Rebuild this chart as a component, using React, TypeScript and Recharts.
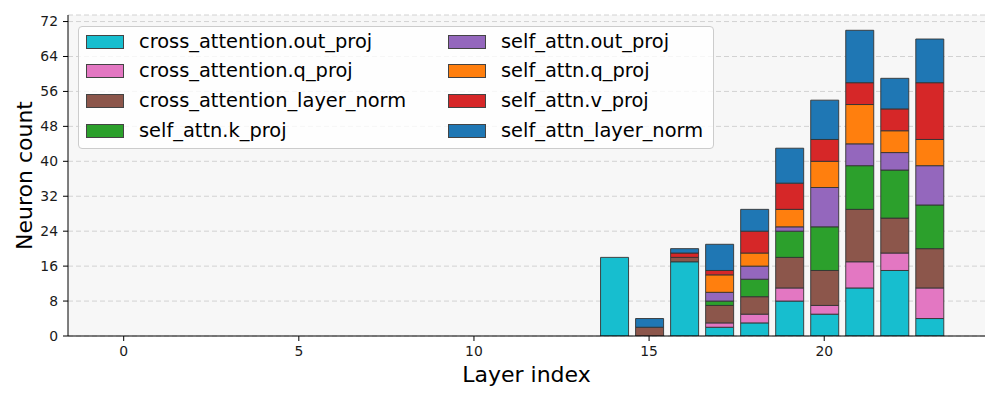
import { BarChart, Bar, XAxis, YAxis, CartesianGrid, Label } from 'recharts';

const layers = [14, 15, 16, 17, 18, 19, 20, 21, 22, 23];

const crossOutProj = [18, 0, 17, 2, 3, 8, 5, 11, 15, 4];
const crossQProj = [0, 0, 0, 1, 2, 3, 2, 6, 4, 7];
const crossLayerNorm = [0, 2, 1, 4, 4, 7, 8, 12, 8, 9];
const selfKProj = [0, 0, 0, 1, 4, 6, 10, 10, 11, 10];
const selfOutProj = [0, 0, 0, 2, 3, 1, 9, 5, 4, 9];
const selfQProj = [0, 0, 0, 4, 3, 4, 6, 9, 5, 6];
const selfVProj = [0, 0, 1, 1, 5, 6, 5, 5, 5, 13];
const selfLayerNorm = [0, 2, 1, 6, 5, 8, 9, 12, 7, 10];

const xTicks = [0, 5, 10, 15, 20];
const yTicks = [0, 8, 16, 24, 32, 40, 48, 56, 64, 72];

const series = [
  { key: 'cross_attention.out_proj', values: crossOutProj, color: '#17becf' },
  { key: 'cross_attention.q_proj', values: crossQProj, color: '#e377c2' },
  { key: 'cross_attention_layer_norm', values: crossLayerNorm, color: '#8c564b' },
  { key: 'self_attn.k_proj', values: selfKProj, color: '#2ca02c' },
  { key: 'self_attn.out_proj', values: selfOutProj, color: '#9467bd' },
  { key: 'self_attn.q_proj', values: selfQProj, color: '#ff7f0e' },
  { key: 'self_attn.v_proj', values: selfVProj, color: '#d62728' },
  { key: 'self_attn_layer_norm', values: selfLayerNorm, color: '#1f77b4' },
];

const data = layers.map((layer, i) => {
  const row: Record<string, number> = { layer };
  series.forEach((s) => {
    row[s.key] = s.values[i];
  });
  return row;
});

const font = '"DejaVu Sans", sans-serif';

const tickStyle = { fontSize: 13.9, fill: '#1a1a1a', fontFamily: font };

export default function App() {
  return (
    <div style={{ position: 'absolute', left: 0, top: 0, width: 1000, height: 400, background: '#fff' }}>
      <BarChart
        width={1000}
        height={400}
        data={data}
        margin={{ top: 15, right: 15, bottom: 0, left: 0 }}
      >
        <CartesianGrid vertical={false} strokeDasharray="5 3" stroke="#d2d2d2" fill="#f7f7f7" />
        <XAxis
          dataKey="layer"
          type="number"
          domain={[-1.59, 24.59]}
          allowDataOverflow
          ticks={xTicks}
          height={64}
          tick={tickStyle}
          tickSize={5}
          tickMargin={5}
          axisLine={{ stroke: '#000' }}
          tickLine={{ stroke: '#000' }}
        >
          <Label
            content={() => (
              <text x={526.5} y={382} textAnchor="middle" fontSize={22} fontFamily={font} fill="#000">
                Layer index
              </text>
            )}
          />
        </XAxis>
        <YAxis
          type="number"
          domain={[0, 73.5]}
          allowDataOverflow
          ticks={yTicks}
          width={68}
          tick={tickStyle}
          tickSize={5}
          tickMargin={5}
          axisLine={{ stroke: '#000' }}
          tickLine={{ stroke: '#000' }}
        >
          <Label
            content={() => (
              <text
                x={32}
                y={175.5}
                transform="rotate(-90 32 175.5)"
                textAnchor="middle"
                fontSize={22}
                fontFamily={font}
                fill="#000"
              >
                Neuron count
              </text>
            )}
          />
        </YAxis>
        {series.map((s) => (
          <Bar
            key={s.key}
            dataKey={s.key}
            stackId="a"
            fill={s.color}
            stroke="#333"
            strokeWidth={0.9}
            barSize={28}
            isAnimationActive={false}
          />
        ))}
      </BarChart>
      <div
        style={{
          position: 'absolute',
          left: 78,
          top: 26,
          width: 636,
          height: 123,
          boxSizing: 'border-box',
          background: 'rgba(255,255,255,0.8)',
          border: '1px solid #cccccc',
          borderRadius: 4,
          fontFamily: font,
          fontSize: 19.4,
          color: '#000',
        }}
      >
        {series.map((s, i) => {
          const col = Math.floor(i / 4);
          const row = i % 4;
          const left = col === 0 ? 7 : 369;
          const top = 7.5 + row * 29.67;
          return (
            <div
              key={s.key}
              style={{
                position: 'absolute',
                left,
                top,
                height: 14,
                display: 'flex',
                alignItems: 'center',
                whiteSpace: 'nowrap',
              }}
            >
              <span
                style={{
                  display: 'inline-block',
                  width: 38,
                  height: 14,
                  boxSizing: 'border-box',
                  background: s.color,
                  border: '1px solid #444',
                  marginRight: 15,
                }}
              />
              <span style={{ lineHeight: '14px' }}>{s.key}</span>
            </div>
          );
        })}
      </div>
    </div>
  );
}
